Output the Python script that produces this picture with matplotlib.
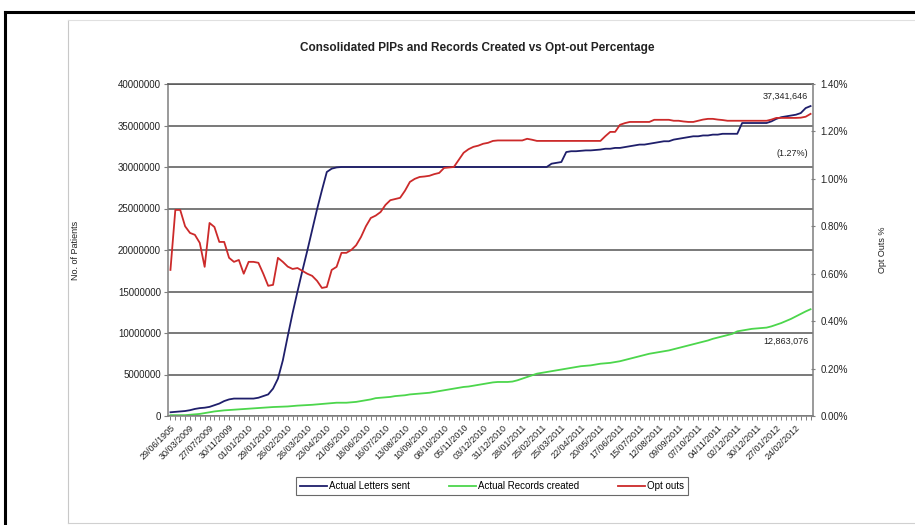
import matplotlib
matplotlib.use('Agg')
import matplotlib.pyplot as plt
from matplotlib.lines import Line2D
from matplotlib.ticker import FuncFormatter, MultipleLocator
import numpy as np

plt.rcParams['font.family'] = ['Liberation Sans', 'DejaVu Sans']

# tick labels shown every 4th category
tick_labels = ['29/06/1905', '30/03/2009', '27/07/2009', '30/11/2009', '01/01/2010',
               '29/01/2010', '26/02/2010', '26/03/2010', '23/04/2010', '21/05/2010',
               '18/06/2010', '16/07/2010', '13/08/2010', '10/09/2010', '08/10/2010',
               '05/11/2010', '03/12/2010', '31/12/2010', '28/01/2011', '25/02/2011',
               '25/03/2011', '22/04/2011', '20/05/2011', '17/06/2011', '15/07/2011',
               '12/08/2011', '09/09/2011', '07/10/2011', '04/11/2011', '02/12/2011',
               '30/12/2011', '27/01/2012', '24/02/2012']

# Actual Letters sent (millions)
letters_sent = [0.45, 0.5, 0.55, 0.6, 0.7, 0.85, 0.95, 1.0, 1.1, 1.3,
                1.5, 1.8, 2.0, 2.1, 2.1, 2.1, 2.1, 2.1, 2.2, 2.4,
                2.6, 3.3, 4.5, 6.7, 9.6, 12.4, 15.0, 17.5, 19.9, 22.4,
                24.9, 27.2, 29.4, 29.8, 29.95, 30.0, 30.0, 30.0, 30.0, 30.0,
                30.0, 30.0, 30.0, 30.0, 30.0, 30.0, 30.0, 30.0, 30.0, 30.0,
                30.0, 30.0, 30.0, 30.0, 30.0, 30.0, 30.0, 30.0, 30.0, 30.0,
                30.0, 30.0, 30.0, 30.0, 30.0, 30.0, 30.0, 30.0, 30.0, 30.0,
                30.0, 30.0, 30.0, 30.0, 30.0, 30.0, 30.0, 30.0, 30.4, 30.5,
                30.6, 31.8, 31.9, 31.9, 31.95, 32.0, 32.0, 32.05, 32.1, 32.2,
                32.2, 32.3, 32.3, 32.4, 32.5, 32.6, 32.7, 32.7, 32.8, 32.9,
                33.0, 33.1, 33.1, 33.3, 33.4, 33.5, 33.6, 33.7, 33.7, 33.8,
                33.8, 33.9, 33.9, 34.0, 34.0, 34.0, 34.0, 35.3, 35.3, 35.3,
                35.3, 35.3, 35.3, 35.5, 35.8, 36.0, 36.1, 36.2, 36.3, 36.5,
                37.1, 37.341646]

# Actual Records created (millions)
records_created = [0.1, 0.1, 0.1, 0.1, 0.15, 0.2, 0.25, 0.35, 0.45, 0.55,
                   0.62, 0.68, 0.72, 0.76, 0.8, 0.84, 0.88, 0.92, 0.96, 1.0,
                   1.05, 1.08, 1.1, 1.12, 1.15, 1.2, 1.25, 1.28, 1.3, 1.35,
                   1.4, 1.45, 1.5, 1.55, 1.6, 1.6, 1.6, 1.65, 1.7, 1.8,
                   1.9, 2.0, 2.15, 2.2, 2.25, 2.3, 2.4, 2.45, 2.5, 2.6,
                   2.65, 2.7, 2.75, 2.8, 2.9, 3.0, 3.1, 3.2, 3.3, 3.4,
                   3.5, 3.55, 3.65, 3.75, 3.85, 3.95, 4.05, 4.1, 4.1, 4.1,
                   4.15, 4.3, 4.5, 4.7, 4.9, 5.1, 5.2, 5.3, 5.4, 5.5,
                   5.6, 5.7, 5.8, 5.9, 6.0, 6.05, 6.1, 6.2, 6.3, 6.35,
                   6.4, 6.5, 6.6, 6.75, 6.9, 7.05, 7.2, 7.35, 7.5, 7.6,
                   7.7, 7.8, 7.9, 8.05, 8.2, 8.35, 8.5, 8.65, 8.8, 8.95,
                   9.1, 9.3, 9.45, 9.6, 9.75, 9.9, 10.2, 10.3, 10.4, 10.5,
                   10.55, 10.6, 10.65, 10.8, 11.0, 11.2, 11.45, 11.7, 12.0, 12.3,
                   12.6, 12.863076]

# Opt outs (%)
opt_outs = [0.616, 0.869, 0.869, 0.80, 0.772, 0.764, 0.73, 0.629, 0.814, 0.797,
            0.734, 0.734, 0.667, 0.65, 0.658, 0.60, 0.65, 0.65, 0.646, 0.60,
            0.549, 0.553, 0.667, 0.65, 0.63, 0.62, 0.624, 0.612, 0.60, 0.591,
            0.57, 0.54, 0.544, 0.616, 0.629, 0.688, 0.688, 0.70, 0.72, 0.755,
            0.80, 0.835, 0.845, 0.86, 0.89, 0.91, 0.915, 0.92, 0.95, 0.987,
            1.0, 1.008, 1.01, 1.013, 1.02, 1.025, 1.046, 1.048, 1.05, 1.08,
            1.11, 1.125, 1.135, 1.14, 1.148, 1.152, 1.16, 1.162, 1.162, 1.162,
            1.162, 1.162, 1.162, 1.169, 1.165, 1.16, 1.16, 1.16, 1.16, 1.16,
            1.16, 1.16, 1.16, 1.16, 1.16, 1.16, 1.16, 1.16, 1.16, 1.18,
            1.198, 1.198, 1.228, 1.235, 1.24, 1.24, 1.24, 1.24, 1.24, 1.249,
            1.249, 1.249, 1.249, 1.245, 1.245, 1.242, 1.24, 1.24, 1.245, 1.25,
            1.253, 1.253, 1.25, 1.248, 1.245, 1.245, 1.245, 1.245, 1.245, 1.245,
            1.245, 1.245, 1.245, 1.25, 1.257, 1.257, 1.257, 1.257, 1.257, 1.258,
            1.262, 1.274]

n = len(letters_sent)
x = np.arange(n)
letters = np.array(letters_sent) * 1e6
records = np.array(records_created) * 1e6

grey = '#7f7f7f'
txt = '#222222'
fig = plt.figure(figsize=(9.15, 5.25), dpi=100)
fig.patch.set_facecolor('white')

# screenshot frame
fig.add_artist(Line2D([5/915, 5/915], [0, 1 - 12/525], transform=fig.transFigure, color='black', lw=2.2))
fig.add_artist(Line2D([5/915, 1], [1 - 12/525, 1 - 12/525], transform=fig.transFigure, color='black', lw=2.2))
fig.add_artist(Line2D([68/915, 68/915], [1 - 523/525, 1 - 20/525], transform=fig.transFigure, color='#c8c8c8', lw=0.8))
fig.add_artist(Line2D([68/915, 1], [1 - 20/525, 1 - 20/525], transform=fig.transFigure, color='#e0e0e0', lw=0.8))
fig.add_artist(Line2D([68/915, 1], [1 - 523/525, 1 - 523/525], transform=fig.transFigure, color='#d0d0d0', lw=0.8))

ax = fig.add_axes([168/915, 1 - 416/525, 645/915, 332/525])
ax.plot(x, letters, color='#1f1f6b', lw=1.3, label='Actual Letters sent')
ax.plot(x, records, color='#4cd64c', lw=1.3, label='Actual Records created')
ax.set_xlim(-0.5, n - 0.5)
ax.set_ylim(0, 40000000)
ax.yaxis.set_major_locator(MultipleLocator(5000000))
ax.yaxis.set_major_formatter(FuncFormatter(lambda v, p: '%d' % v))
ax.grid(axis='y', color='#555555', lw=1.1)
ax.set_axisbelow(True)
ax.set_xticks(np.arange(0, 4 * len(tick_labels), 4))
ax.set_xticklabels(tick_labels, rotation=45, ha='right', rotation_mode='anchor', fontsize=6.5, color=txt)
ax.set_xticks(x, minor=True)
ax.tick_params(axis='x', which='both', length=3, width=0.7, color=grey, pad=2)
ax.tick_params(axis='y', length=3, width=0.8, color=grey, labelsize=7, labelcolor=txt, pad=2)
for s in ['left', 'bottom', 'right']:
    ax.spines[s].set_color(grey)
    ax.spines[s].set_linewidth(1.1)
ax.spines['top'].set_color('#555555')
ax.spines['top'].set_linewidth(1.1)
ax.set_ylabel('No. of Patients', fontsize=6.5, color=txt)
ax.yaxis.set_label_coords(-0.136, 0.5)

ax2 = ax.twinx()
ax2.plot(x, opt_outs, color='#cc2a2a', lw=1.3, label='Opt outs')
ax2.set_ylim(0, 1.4)
ax2.yaxis.set_major_locator(MultipleLocator(0.2))
ax2.yaxis.set_major_formatter(FuncFormatter(lambda v, p: '%.2f%%' % v))
ax2.tick_params(axis='y', length=3, width=0.8, color=grey, labelsize=7, labelcolor=txt, direction='inout', pad=4)
for s in ['left', 'bottom', 'right', 'top']:
    ax2.spines[s].set_visible(False)
ax2.set_ylabel('Opt Outs %', fontsize=6.5, color=txt, rotation=90)
ax2.yaxis.set_label_coords(1.1008, 0.5)

ax.text(n - 1.5, letters_sent[-1] * 1e6 + 600000, '37,341,646', fontsize=6.5, ha='right', va='bottom', color=txt)
ax2.text(n - 1.5, opt_outs[-1] - 0.165, '(1.27%)', fontsize=6.5, ha='right', va='center', color=txt)
ax.text(n - 1.5, records_created[-1] * 1e6 - 3900000, '12,863,076', fontsize=6.5, ha='right', va='center', color=txt)

fig.text(477/915, 1 - 48/525, 'Consolidated PIPs and Records Created vs Opt-out Percentage',
         ha='center', va='center', fontsize=8.5, fontweight='bold', color=txt)

h1, l1 = ax.get_legend_handles_labels()
h2, l2 = ax2.get_legend_handles_labels()
leg = fig.legend(h1 + h2, l1 + l2, loc='center', bbox_to_anchor=(492/915, 1 - 486/525), ncol=3,
                 fontsize=7, frameon=True, fancybox=False, handlelength=2.8, handletextpad=0.2,
                 columnspacing=4.0, borderpad=0.4)
leg.get_frame().set_edgecolor('#444444')
leg.get_frame().set_linewidth(0.8)

fig.savefig('out.png', dpi=100)
